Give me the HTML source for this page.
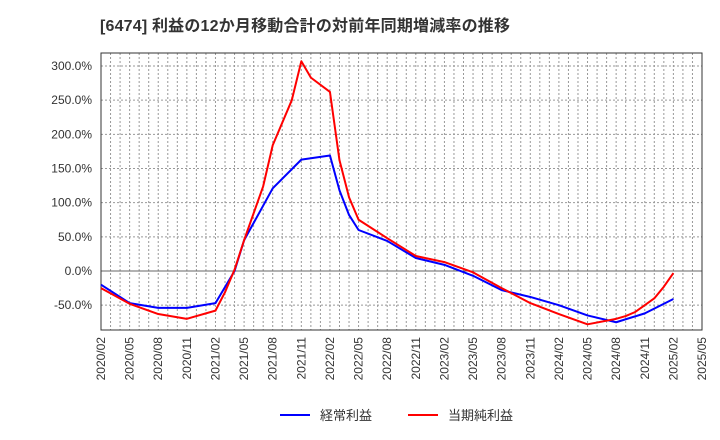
<!DOCTYPE html>
<html><head><meta charset="utf-8"><style>
body{margin:0;background:#fff;font-family:"Liberation Sans","Noto Sans CJK JP",sans-serif;}
</style></head><body>
<svg id="c" width="720" height="440" xmlns="http://www.w3.org/2000/svg" style="display:block">
<text x="100" y="31" font-size="16" font-weight="bold" fill="#333" textLength="410" lengthAdjust="spacing" font-family="Liberation Sans, Noto Sans CJK JP, sans-serif">[6474]  利益の12か月移動合計の対前年同期増減率の推移</text>
<g id="grid"></g><g id="axes"></g><g id="series"></g>
<g>
<line x1="280" y1="415" x2="310" y2="415" stroke="#0000ff" stroke-width="2"/>
<text x="320" y="420" font-size="13" fill="#333">経常利益</text>
<line x1="408" y1="415" x2="438" y2="415" stroke="#ff0000" stroke-width="2"/>
<text x="448" y="420" font-size="13" fill="#333">当期純利益</text>
</g>
</svg>
<script>
// months since 2020/02
const blueMonths=[0,3,6,9,12,14,15,18,21,24,25,26,27,30,33,36,39,42,45,48,51,54,57,60];
const blueValues=[-20,-47,-54,-54,-47,0,45,121,163,169,118,82,60,44,19,9,-7,-28,-38,-50,-65,-75,-62,-41];
const redMonths=[0,3,6,9,12,13,14,15,17,18,20,21,22,24,25,26,27,30,33,36,39,42,45,48,51,54,55,56,57,58,59,60];
const redValues=[-25,-48,-63,-70,-58,-31,2,45,124,184,250,307,283,262,162,108,75,48,22,13,-2,-25,-47,-63,-78,-70,-66,-60,-50,-40,-23,-3];
const yTicks=[-50,0,50,100,150,200,250,300];
const xTickLabels=["2020/02","2020/05","2020/08","2020/11","2021/02","2021/05","2021/08","2021/11","2022/02","2022/05","2022/08","2022/11","2023/02","2023/05","2023/08","2023/11","2024/02","2024/05","2024/08","2024/11","2025/02","2025/05"];
const L=101,R=702,T=53,B=330;
const xs=m=>L+m*(R-L)/63;
const ys=v=>271-v*0.6833;
const NS="http://www.w3.org/2000/svg";
function mk(p,t,a){const e=document.createElementNS(NS,t);for(const k in a)e.setAttribute(k,a[k]);p.appendChild(e);return e;}
const grid=document.getElementById('grid'),axes=document.getElementById('axes'),ser=document.getElementById('series');
for(let m=1;m<63;m++){const l=mk(grid,'line',{x1:xs(m),x2:xs(m),y1:T,y2:B,stroke:'#999','stroke-dasharray':'2,2','stroke-width':1});

}
yTicks.forEach(v=>{const y=ys(v);
const l=mk(grid,'line',{x1:L,x2:R,y1:y,y2:y,stroke:v===0?'#666':'#999','stroke-dasharray':v===0?'':'2,2','stroke-width':1});


const t=mk(axes,'text',{x:92,y:y+4,'font-size':12,fill:'#333','text-anchor':'end'});t.textContent=v.toFixed(1)+'%';

});
const f=mk(axes,'rect',{x:L,y:T,width:R-L,height:B-T,fill:'none',stroke:'#333','stroke-width':1});


xTickLabels.forEach((s,i)=>{const x=xs(i*3)+4;const t=mk(axes,'text',{x:x,y:337,'font-size':12,fill:'#333','text-anchor':'end',transform:`rotate(-90 ${x} 337)`});t.textContent=s;

});
function line(ms,vs,c,n){const p=mk(ser,'polyline',{points:ms.map((m,i)=>xs(m)+','+ys(vs[i])).join(' '),fill:'none',stroke:c,'stroke-width':2,'stroke-linejoin':'round'});

}
line(blueMonths,blueValues,'#0000ff','ordinary-profit-line');
line(redMonths,redValues,'#ff0000','net-profit-line');
</script>
</body></html>
